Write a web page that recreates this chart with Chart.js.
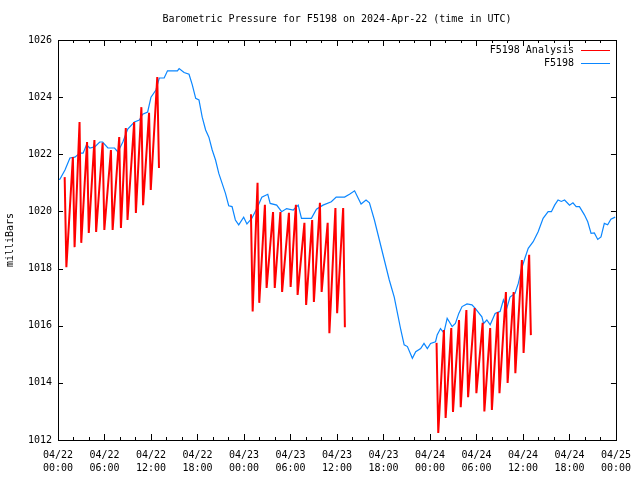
<!DOCTYPE html>
<html>
<head>
<meta charset="utf-8">
<script src="https://cdn.jsdelivr.net/npm/chart.js@4/dist/chart.umd.min.js"></script>
<style>
  body { margin: 0; background: #fff; }
  canvas { display: block; }
</style>
</head>
<body>
<canvas id="pressureChart" width="640" height="480"></canvas>
<script>
// hours since 2024-04-22 00:00 UTC
const obsHours = [0, 0.26, 0.9, 1.54, 2.18, 2.82, 3.24, 3.68, 4.1, 4.74, 5.38, 5.76, 6.44, 7.3, 7.72, 8.37, 9.0, 9.86, 10.5, 10.93,
  11.57, 12.0, 12.64, 13.07, 13.7, 14.13, 15.41, 15.63, 16.27, 16.91, 17.33, 17.77, 18.19, 18.61, 19.05, 19.47, 19.9, 20.33, 20.75, 21.18,
  21.61, 22.03, 22.46, 22.89, 23.32, 23.96, 24.38, 25.02, 25.66, 26.3, 27.07, 27.38, 28.22, 28.86, 29.5, 30.36, 31.0, 31.42, 32.7, 33.35,
  34.2, 35.27, 35.9, 36.98, 37.62, 38.27, 39.11, 39.75, 40.19, 40.83, 41.47, 42.11, 42.75, 43.39, 43.81, 44.24, 44.67, 45.09, 45.73, 46.16,
  46.8, 47.23, 47.66, 48.08, 48.72, 48.93, 49.36, 49.79, 50.22, 50.86, 51.28, 51.72, 52.14, 52.78, 53.42, 53.84, 54.7, 54.92, 55.34, 55.77,
  56.41, 57.05, 57.48, 57.9, 58.33, 58.97, 59.4, 59.83, 60.25, 60.68, 61.32, 61.96, 62.6, 63.25, 63.67, 64.09, 64.53, 64.95, 65.37, 66.01,
  66.45, 66.87, 67.29, 67.93, 68.36, 68.79, 69.21, 69.65, 70.07, 70.5, 70.93, 71.35, 71.9];
const obsPressure = [1021.1, 1021.13, 1021.45, 1021.87, 1021.9, 1022.04, 1022.04, 1022.33, 1022.22, 1022.26, 1022.43, 1022.43, 1022.22, 1022.22, 1022.08, 1022.43, 1022.88, 1023.13, 1023.2, 1023.4,
  1023.48, 1024.0, 1024.25, 1024.67, 1024.67, 1024.92, 1024.92, 1025.0, 1024.86, 1024.8, 1024.43, 1023.96, 1023.9, 1023.3, 1022.85, 1022.6, 1022.15, 1021.8, 1021.33, 1020.98,
  1020.63, 1020.2, 1020.17, 1019.7, 1019.53, 1019.8, 1019.56, 1019.76, 1020.1, 1020.5, 1020.6, 1020.28, 1020.22, 1019.99, 1020.1, 1020.05, 1020.22, 1019.76, 1019.76, 1020.08,
  1020.22, 1020.34, 1020.5, 1020.5, 1020.6, 1020.72, 1020.26, 1020.4, 1020.3, 1019.7, 1019.0, 1018.3, 1017.6, 1017.0, 1016.43, 1015.85, 1015.33, 1015.27, 1014.86, 1015.09,
  1015.2, 1015.38, 1015.2, 1015.38, 1015.44, 1015.68, 1015.9, 1015.75, 1016.26, 1015.97, 1016.08, 1016.43, 1016.67, 1016.76, 1016.73, 1016.61, 1016.31, 1016.08, 1016.2, 1016.03,
  1016.43, 1016.5, 1016.9, 1016.6, 1017.0, 1017.13, 1017.48, 1018.0, 1018.36, 1018.71, 1018.94, 1019.29, 1019.76, 1019.99, 1019.99, 1020.22, 1020.4, 1020.35, 1020.4, 1020.22,
  1020.3, 1020.17, 1020.17, 1019.88, 1019.64, 1019.23, 1019.25, 1019.02, 1019.11, 1019.58, 1019.53, 1019.73, 1019.8];

// analysis: each hourly run starts at a high value and drops to a low
const anaHours = [0.86, 1.92, 2.78, 3.75, 4.7, 5.76, 6.83, 7.9, 8.75, 9.83, 10.76, 11.75, 12.81,
  24.9, 25.75, 26.7, 27.75, 28.7, 29.8, 30.7, 31.8, 32.8, 33.8, 34.8, 35.8, 36.8,
  48.85, 49.8, 50.75, 51.75, 52.7, 53.77, 54.8, 55.77, 56.75, 57.8, 58.8, 59.86, 60.8];
const anaHigh = [1021.2, 1021.9, 1023.13, 1022.43, 1022.5, 1022.4, 1022.15, 1022.6, 1022.92, 1023.13, 1023.65, 1023.45, 1024.7,
  1019.9, 1021.0, 1020.23, 1019.98, 1019.98, 1019.95, 1020.23, 1019.6, 1019.7, 1020.3, 1019.6, 1020.12, 1020.12,
  1015.4, 1015.85, 1015.92, 1016.2, 1016.55, 1016.62, 1016.1, 1015.92, 1016.48, 1017.18, 1017.18, 1018.3, 1018.48];
const anaLow = [1018.05, 1018.75, 1018.9, 1019.25, 1019.28, 1019.35, 1019.35, 1019.42, 1019.7, 1019.95, 1020.22, 1020.75, 1021.52,
  1016.5, 1016.8, 1017.32, 1017.32, 1017.18, 1017.36, 1017.08, 1016.73, 1016.83, 1017.18, 1015.74, 1016.44, 1015.95,
  1012.25, 1012.77, 1012.98, 1013.15, 1013.5, 1013.64, 1013.0, 1013.05, 1013.64, 1014.0, 1014.34, 1015.05, 1015.67];

const tickDays = ["04/22", "04/22", "04/22", "04/22", "04/23", "04/23", "04/23", "04/23", "04/24", "04/24", "04/24", "04/24", "04/25"];
const tickTimes = ["00:00", "06:00", "12:00", "18:00", "00:00", "06:00", "12:00", "18:00", "00:00", "06:00", "12:00", "18:00", "00:00"];

const FONT = "DejaVu Sans Mono";
const RED = "#ff0000";
const BLUE = "#0a86ff";

const obsPoints = obsHours.map((h, i) => ({ x: h, y: obsPressure[i] }));
const anaPoints = [];
anaHours.forEach((h, i) => {
  anaPoints.push({ x: h, y: anaHigh[i] });
  anaPoints.push({ x: h + 0.22, y: anaLow[i] });
  const next = anaHours[i + 1];
  if (next !== undefined && next - h > 3) anaPoints.push({ x: h + 0.5, y: null });
});

const gnuplotFrame = {
  id: "gnuplotFrame",
  afterDraw(chart) {
    const { ctx, chartArea: a, scales: { x, y } } = chart;
    const px = v => Math.round(v) + 0.5;
    ctx.save();
    ctx.strokeStyle = "#000";
    ctx.lineWidth = 1;
    ctx.beginPath();
    // x ticks, major every 6h, minor every 2h, on bottom and top
    for (let h = 0; h <= 72; h += 2) {
      const len = h % 6 === 0 ? 6 : 3;
      const xp = px(x.getPixelForValue(h));
      ctx.moveTo(xp, a.bottom); ctx.lineTo(xp, a.bottom - len);
      ctx.moveTo(xp, a.top); ctx.lineTo(xp, a.top + len);
    }
    for (let v = 1012; v <= 1026; v += 2) {
      const yp = px(y.getPixelForValue(v));
      ctx.moveTo(a.left, yp); ctx.lineTo(a.left + 5, yp);
      ctx.moveTo(a.right, yp); ctx.lineTo(a.right - 5, yp);
    }
    ctx.stroke();
    ctx.strokeRect(px(a.left), px(a.top), Math.round(a.right - a.left), Math.round(a.bottom - a.top));

    // title
    ctx.fillStyle = "#000";
    ctx.font = "10px '" + FONT + "'";
    ctx.textAlign = "center";
    ctx.textBaseline = "middle";
    ctx.fillText("Barometric Pressure for F5198 on 2024-Apr-22 (time in UTC)", (a.left + a.right) / 2, 19);

    // legend
    ctx.textAlign = "right";
    const items = [["F5198 Analysis", RED], ["F5198", BLUE]];
    items.forEach(([label, color], i) => {
      const ly = 50 + i * 13;
      ctx.fillStyle = "#000";
      ctx.fillText(label, 574, ly);
      ctx.strokeStyle = color;
      ctx.beginPath();
      ctx.moveTo(581, ly + 0.5);
      ctx.lineTo(610, ly + 0.5);
      ctx.stroke();
    });
    ctx.restore();
  }
};

new Chart(document.getElementById("pressureChart"), {
  type: "line",
  data: {
    datasets: [
      {
        label: "F5198 Analysis",
        data: anaPoints,
        borderColor: RED,
        borderWidth: 2,
        pointRadius: 0,
        spanGaps: false,
        tension: 0
      },
      {
        label: "F5198",
        data: obsPoints,
        borderColor: BLUE,
        borderWidth: 1.2,
        pointRadius: 0,
        tension: 0
      }
    ]
  },
  options: {
    responsive: false,
    animation: false,
    layout: { padding: { top: 40, right: 20, left: 0, bottom: 0 } },
    plugins: {
      legend: { display: false },
      title: { display: false },
      tooltip: { enabled: false }
    },
    scales: {
      x: {
        type: "linear",
        min: 0,
        max: 72,
        grid: { display: false, drawTicks: false },
        border: { display: false },
        ticks: {
          stepSize: 6,
          autoSkip: false,
          maxRotation: 0,
          padding: 9,
          color: "#000",
          font: { family: FONT, size: 10, lineHeight: 1.3 },
          callback: value => {
            const i = Math.round(value / 6);
            return [tickDays[i], tickTimes[i]];
          }
        },
        afterFit: scale => { scale.height = 40; }
      },
      y: {
        min: 1012,
        max: 1026,
        grid: { display: false, drawTicks: false },
        border: { display: false },
        ticks: {
          stepSize: 2,
          padding: 6,
          color: "#000",
          font: { family: FONT, size: 10 },
          callback: value => String(value)
        },
        title: {
          display: true,
          text: "milliBars",
          color: "#000",
          padding: { top: 4, bottom: 0 },
          font: { family: FONT, size: 10 }
        },
        afterFit: scale => { scale.width = 58; }
      }
    }
  },
  plugins: [gnuplotFrame]
});
</script>
</body>
</html>
